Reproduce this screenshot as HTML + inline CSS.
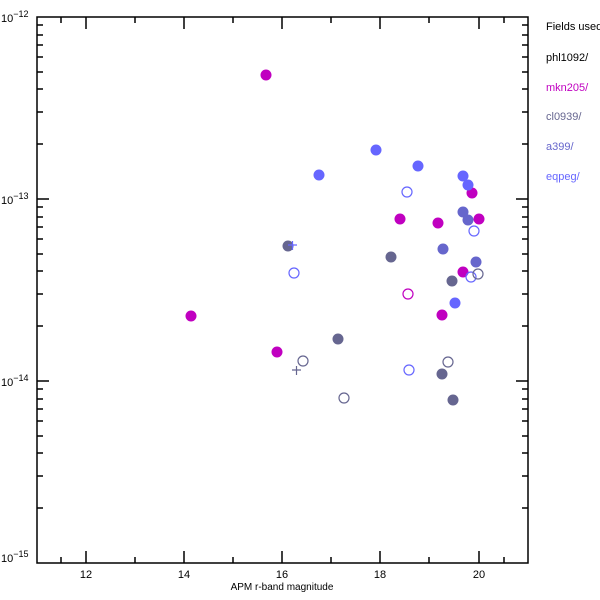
<!DOCTYPE html>
<html><head><style>body{margin:0;background:#fff}svg{display:block}</style></head><body>
<svg width="600" height="600" xmlns="http://www.w3.org/2000/svg" font-family="Liberation Sans, sans-serif">
<rect width="600" height="600" fill="#fff"/>
<g stroke="#000" stroke-width="1.5" fill="none">
<rect x="37" y="17" width="491" height="546"/>
<path d="M86,17v12M184,17v12M282,17v12M380,17v12M479,17v12M86,563v-12M184,563v-12M282,563v-12M380,563v-12M479,563v-12"/>
<path d="M61,17v6M135,17v6M233,17v6M331,17v6M429,17v6M504,17v6M61,563v-6M135,563v-6M233,563v-6M331,563v-6M429,563v-6M504,563v-6"/>
<path d="M37,199h12M37,381h12M528,199h-12M528,381h-12"/>
<path d="M37,508h6M37,476h6M37,453h6M37,436h6M37,421h6M37,409h6M37,399h6M37,389h6M37,326h6M37,294h6M37,271h6M37,254h6M37,239h6M37,227h6M37,217h6M37,207h6M37,144h6M37,112h6M37,89h6M37,72h6M37,57h6M37,45h6M37,35h6M37,25h6"/>
<path d="M522,508h6M522,476h6M522,453h6M522,436h6M522,421h6M522,409h6M522,399h6M522,389h6M522,326h6M522,294h6M522,271h6M522,254h6M522,239h6M522,227h6M522,217h6M522,207h6M522,144h6M522,112h6M522,89h6M522,72h6M522,57h6M522,45h6M522,35h6M522,25h6"/>
</g>
<g font-size="11" fill="#000">
<text x="1" y="22">10<tspan dy="-5" font-size="9">−12</tspan></text>
<text x="1" y="204">10<tspan dy="-5" font-size="9">−13</tspan></text>
<text x="1" y="386">10<tspan dy="-5" font-size="9">−14</tspan></text>
<text x="1" y="562">10<tspan dy="-5" font-size="9">−15</tspan></text>
<text x="86" y="578" text-anchor="middle">12</text>
<text x="184" y="578" text-anchor="middle">14</text>
<text x="282" y="578" text-anchor="middle">16</text>
<text x="380" y="578" text-anchor="middle">18</text>
<text x="479" y="578" text-anchor="middle">20</text>
<text x="282" y="590" text-anchor="middle" font-size="10">APM r-band magnitude</text>
<text x="546" y="30">Fields used</text>
<text x="546" y="61">phl1092/</text>
<text x="546" y="91" fill="#c000c0">mkn205/</text>
<text x="546" y="120" fill="#666690">cl0939/</text>
<text x="546" y="150" fill="#6666cc">a399/</text>
<text x="546" y="180" fill="#6666ff">eqpeg/</text>
</g>
<g fill="#c000c0">
<circle cx="266" cy="75" r="5.5"/><circle cx="191" cy="316" r="5.5"/><circle cx="277" cy="352" r="5.5"/>
<circle cx="400" cy="219" r="5.5"/><circle cx="438" cy="223" r="5.5"/><circle cx="472" cy="193" r="5.5"/>
<circle cx="479" cy="219" r="5.5"/><circle cx="463" cy="272" r="5.5"/><circle cx="442" cy="315" r="5.5"/>
</g>
<g fill="#6666ff">
<circle cx="319" cy="175" r="5.5"/><circle cx="376" cy="150" r="5.5"/><circle cx="418" cy="166" r="5.5"/>
<circle cx="463" cy="176" r="5.5"/><circle cx="468" cy="185" r="5.5"/><circle cx="455" cy="303" r="5.5"/>
</g>
<g fill="#6666cc">
<circle cx="463" cy="212" r="5.5"/><circle cx="468" cy="220" r="5.5"/><circle cx="443" cy="249" r="5.5"/><circle cx="476" cy="262" r="5.5"/>
</g>
<g fill="#666690">
<circle cx="288" cy="246" r="5.5"/><circle cx="391" cy="257" r="5.5"/><circle cx="338" cy="339" r="5.5"/>
<circle cx="452" cy="281" r="5.5"/><circle cx="442" cy="374" r="5.5"/><circle cx="453" cy="400" r="5.5"/>
</g>
<g fill="none" stroke-width="1.2">
<circle cx="407" cy="192" r="5" stroke="#6666ff"/><circle cx="474" cy="231" r="5" stroke="#6666ff"/>
<circle cx="294" cy="273" r="5" stroke="#6666ff"/><circle cx="471" cy="277" r="5" stroke="#6666ff"/>
<circle cx="478" cy="274" r="5" stroke="#666690"/><circle cx="409" cy="370" r="5" stroke="#6666ff"/>
<circle cx="344" cy="398" r="5" stroke="#666690"/><circle cx="303" cy="361" r="5" stroke="#666690"/>
<circle cx="448" cy="362" r="5" stroke="#666690"/><circle cx="408" cy="294" r="5" stroke="#c000c0"/>
</g>
<path d="M288,245h9M292.5,241v9" stroke="#6666ff" stroke-width="1.2"/>
<path d="M292,370h9M296.5,366v9" stroke="#666690" stroke-width="1.2"/>
</svg>
</body></html>
